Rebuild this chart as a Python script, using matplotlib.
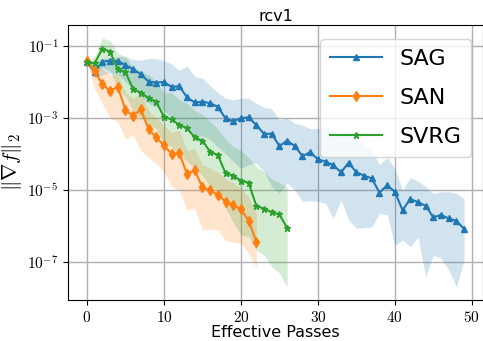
import numpy as np
import matplotlib
matplotlib.use("Agg")
import matplotlib.pyplot as plt
from matplotlib.ticker import FuncFormatter, NullLocator

plt.rcParams['mathtext.fontset'] = 'cm'

# log10 values
sag_mean = [-1.45, -1.72, -1.44, -1.41, -1.42, -1.53, -1.65, -1.79, -1.99, -2.02,
            -2.00, -2.14, -2.12, -2.43, -2.57, -2.55, -2.59, -2.69, -3.01, -3.09,
            -3.01, -2.98, -3.20, -3.44, -3.44, -3.78, -3.63, -3.78, -4.06, -3.95,
            -4.15, -4.21, -4.31, -4.51, -4.24, -4.51, -4.60, -4.68, -5.07, -4.87,
            -5.05, -5.56, -5.25, -5.34, -5.44, -5.76, -5.69, -5.79, -5.86, -6.08]
sag_upper = [-1.45, -1.45, -1.35, -1.33, -1.30, -1.30, -1.38, -1.40, -1.35, -1.35,
             -1.42, -1.50, -1.68, -1.55, -1.85, -1.90, -2.10, -2.30, -2.45, -2.50,
             -2.45, -2.45, -2.60, -2.70, -2.75, -3.05, -3.00, -3.15, -3.20, -3.30,
             -3.30, -3.25, -3.40, -3.50, -3.35, -3.60, -3.75, -3.90, -4.30, -4.10,
             -4.40, -5.00, -4.65, -4.75, -4.90, -5.10, -5.05, -5.05, -5.10, -5.23]
sag_lower = [-1.45, -1.90, -1.80, -1.75, -1.80, -2.00, -2.20, -2.40, -2.60, -2.70,
             -2.80, -3.00, -3.10, -3.30, -3.50, -3.50, -3.60, -3.80, -4.00, -4.20,
             -4.40, -4.30, -4.25, -4.50, -4.90, -5.09, -4.81, -5.00, -5.32, -5.30,
             -5.32, -5.37, -5.79, -5.28, -5.83, -6.06, -6.05, -6.02, -5.65, -5.69,
             -6.53, -6.39, -6.57, -6.30, -7.41, -6.81, -6.90, -7.22, -7.69, -6.94]

san_mean = [-1.41, -1.71, -2.06, -2.25, -2.13, -2.78, -2.94, -2.76, -3.31, -3.54,
            -3.76, -4.00, -3.97, -4.56, -4.45, -4.93, -5.01, -5.14, -5.32, -5.43,
            -5.53, -5.85, -6.43]
san_upper = [-1.41, -1.48, -1.65, -1.80, -1.80, -2.30, -2.45, -2.30, -2.80, -3.00,
             -3.20, -3.40, -3.35, -3.90, -3.85, -4.30, -4.40, -4.50, -4.70, -4.80,
             -4.95, -5.20, -5.65]
san_lower = [-1.41, -2.20, -2.60, -3.00, -3.10, -3.60, -3.47, -3.90, -4.10, -4.26,
             -4.50, -4.90, -5.00, -5.56, -5.50, -6.10, -6.10, -6.10, -6.40, -6.45,
             -6.48, -6.76, -7.15]

svrg_mean = [-1.46, -1.48, -1.08, -1.16, -1.65, -1.73, -2.20, -2.30, -2.45, -2.55,
             -2.97, -3.04, -3.19, -3.29, -3.54, -3.63, -3.94, -4.03, -4.53, -4.60,
             -4.74, -4.80, -5.44, -5.52, -5.62, -5.68, -6.05]
svrg_upper = [-1.46, -1.30, -0.78, -0.85, -1.20, -1.30, -1.60, -1.70, -1.80, -2.00,
              -2.30, -2.30, -2.50, -2.60, -2.80, -2.90, -3.10, -3.30, -3.60, -3.80,
              -3.90, -4.10, -4.35, -4.50, -4.70, -4.80, -4.90]
svrg_lower = [-1.46, -1.80, -1.60, -1.70, -2.20, -2.40, -2.80, -3.00, -3.20, -3.30,
              -3.70, -3.80, -4.00, -4.20, -4.40, -4.60, -4.90, -5.00, -5.50, -5.90,
              -6.25, -6.30, -6.67, -6.80, -7.13, -7.30, -7.69]

series = [
    ("SAG", sag_mean, sag_upper, sag_lower, "#1f77b4", "^", 5),
    ("SAN", san_mean, san_upper, san_lower, "#ff7f0e", "d", 5),
    ("SVRG", svrg_mean, svrg_upper, svrg_lower, "#2ca02c", "*", 5),
]

fig = plt.figure(figsize=(4.83, 3.41), dpi=100)
ax = fig.add_axes([0.141, 0.12, 0.859, 0.807])

for name, m, u, l, c, mk, ms in series:
    x = np.arange(len(m))
    ax.fill_between(x, 10.0 ** np.array(l), 10.0 ** np.array(u), color=c, alpha=0.2, linewidth=0)
    ax.plot(x, 10.0 ** np.array(m), color=c, marker=mk, markersize=ms, linewidth=1.5, label=name)

ax.set_yscale('log')
ax.set_xlim(-2.45, 51.45)
ax.set_ylim(10 ** -8.056, 10 ** -0.417)
ax.set_yticks([1e-1, 1e-3, 1e-5, 1e-7])
ax.yaxis.set_minor_locator(NullLocator())
ax.yaxis.set_major_formatter(FuncFormatter(lambda v, p: r"$10^{%d}$" % int(round(np.log10(v)))))
ax.set_xticks([0, 10, 20, 30, 40, 50])
ax.xaxis.set_major_formatter(FuncFormatter(lambda v, p: r"$%d$" % int(v)))
ax.tick_params(labelsize=11, length=3.5)
ax.grid(True, color="#b0b0b0", linewidth=1.0)
ax.set_axisbelow(True)

ax.set_xlabel("Effective Passes", fontsize=11.5, labelpad=0)
ax.set_ylabel(r"$\|\nabla f\|_2$", fontsize=15, labelpad=2)
ax.set_title("rcv1", fontsize=11.5, pad=3)

leg = ax.legend(loc='upper right', fontsize=16, handlelength=2.3, borderpad=0.45,
                labelspacing=0.85, handletextpad=0.8, framealpha=0.8,
                borderaxespad=0, bbox_to_anchor=(0.972, 0.949))

fig.savefig("out.png", dpi=100)
